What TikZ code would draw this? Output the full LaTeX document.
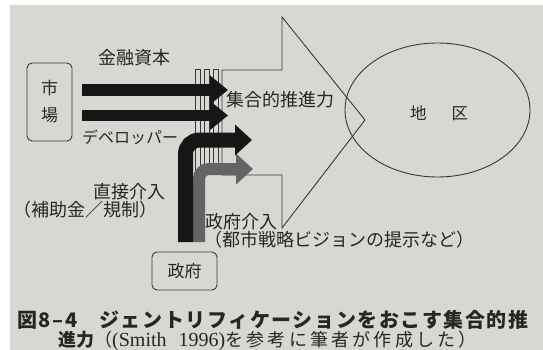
\documentclass[tikz,border=0pt]{standalone}
\usepackage{fontspec}
\newfontfamily\jp{Noto Sans CJK JP}
\newfontfamily\jpcap{Noto Sans CJK JP}[LetterSpace=8]
\newfontfamily\jpsp{Noto Sans CJK JP}[LetterSpace=18]
\newfontfamily\lser{Liberation Serif}
\usetikzlibrary{arrows.meta,shapes.geometric}
\definecolor{bg}{RGB}{216,216,211}
\definecolor{linec}{RGB}{55,55,55}
\definecolor{txt}{RGB}{38,38,38}
\definecolor{blk}{RGB}{22,22,22}
\definecolor{gry}{RGB}{100,100,100}
\tikzset{
  outl/.style={draw=linec, line width=0.9pt},
  lbl/.style={font=\jp\fontsize{18}{20}\selectfont, text=txt, inner sep=0pt},
  boxnode/.style={draw=linec, line width=0.9pt, rounded corners=5pt, font=\jp\fontsize{17}{19}\selectfont, text=txt},
  barrect/.style={draw=linec, line width=0.7pt, fill=bg},
  flowarrow/.style={draw=blk, line width=11.5pt, -{Triangle[length=18pt,width=28pt]}},
  benddark/.style={draw=blk, line width=15pt, rounded corners=14pt, -{Triangle[length=17pt,width=30pt]}},
  bendgray/.style={draw=gry, line width=12pt, rounded corners=10pt, -{Triangle[length=17pt,width=30pt]}},
}
\begin{document}
\begin{tikzpicture}[x=1pt,y=-1pt]
\fill[white] (0,0) rectangle (543,350);
\fill[bg] (10,5) rectangle (543,350);
\useasboundingbox (0,0) rectangle (543,350);

% big hollow arrow (collective push)
\draw[outl] (222,175) -- (222,70) -- (282,70) -- (282,17) -- (365,120) -- (282,228) -- (282,175) -- cycle;

% district
\node[outl, ellipse, minimum width=185pt, minimum height=134pt, inner sep=0pt] (area) at (437.5,110) {};
\node[font=\jp\fontsize{16.5}{18}\selectfont, text=txt, inner sep=0pt] (areatxt) at (439,113) {地\hspace{25pt}区};

% thin bars
\draw[barrect] (195,69) rectangle (200,172);
\draw[barrect] (204,69) rectangle (209,172);
\draw[barrect] (213,69) rectangle (218,172);

% market box
\node[boxnode, minimum width=45pt, minimum height=78pt, align=center] (mkt) at (49.5,102) {市\\[8pt]場};
% government box
\node[boxnode, minimum width=65pt, minimum height=38pt] (gov) at (184.5,271) {政府};

% coordinates for connectors
\coordinate (s1) at (82,90);    \coordinate (t1) at (228,90);
\coordinate (s2) at (82,115.5); \coordinate (t2) at (228,115.5);
\coordinate (s3) at (185.5,242); \coordinate (t3) at (252,140);
\coordinate (s4) at (199,242);   \coordinate (t4) at (253,169);

\draw[bendgray] (s4) |- (t4);
\draw[benddark] (s3) |- (t3);
\draw[flowarrow] (s1) -- (t1);
\draw[flowarrow] (s2) -- (t2);

% labels
\node[lbl] (lfin) at (134,58) {金融資本};
\node[lbl, anchor=west, font=\jp\fontsize{16}{18}\selectfont] (ldev) at (82,137) {デベロッパー};
\node[lbl, anchor=west] (lcol) at (226,100) {集合的推進力};
\node[lbl, anchor=east] (ldir) at (166,192) {直接介入};
\node[lbl, anchor=east] (lsub) at (158,210) {（補助金／規制）};
\node[lbl, anchor=west] (lgi) at (205,222) {政府介入};
\node[lbl, anchor=west] (lvis) at (204,240) {（都市戦略ビジョンの提示など）};

% caption
\node[anchor=west, inner sep=0pt, text=txt, font=\jpcap\bfseries\fontsize{20}{22}\selectfont] (cap1) at (17,320)
  {図8–4\hspace{22pt}ジェントリフィケーションをおこす集合的推};
\node[anchor=west, inner sep=0pt, text=txt, font=\jpsp\fontsize{18}{20}\selectfont] (cap2) at (58,341)
  {{\jp\bfseries 進力}（{\lser\fontsize{20}{22}\selectfont (Smith\hspace{12pt}1996)}を参考に筆者が作成した）};
\end{tikzpicture}
\end{document}
